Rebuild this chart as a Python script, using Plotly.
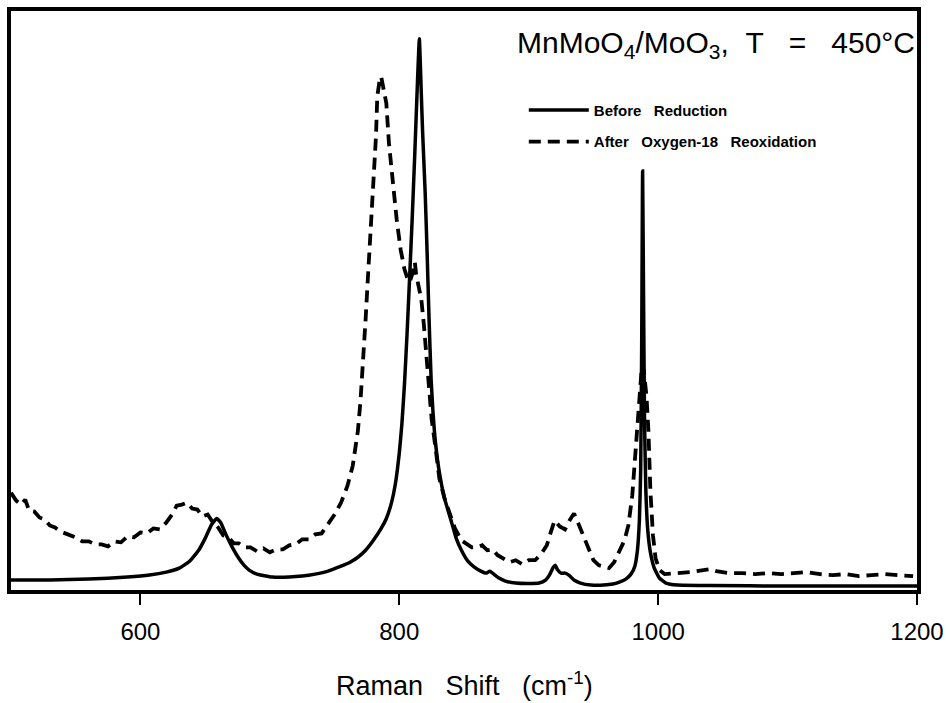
import plotly.graph_objects as go

# Raman shift (cm^-1) and intensity (arbitrary units)
before_x = [500, 530, 560, 590, 607, 620, 630, 638, 645, 650, 655, 659, 662, 666, 671, 676, 680, 684, 690,
            702, 715, 725, 735, 745, 755, 762, 768, 774, 780, 786, 790, 794, 797, 800, 802, 804, 806, 808,
            810, 812, 814, 815.5, 817, 818, 820, 821.5, 823, 824.6, 826, 828, 831, 835, 840, 844, 848, 853,
            858, 863, 867, 870, 873, 877, 882, 890, 900, 908, 913, 916, 919, 920.5, 922, 925, 928, 931, 935,
            940, 948, 958, 965, 970, 975, 979, 982, 984, 985.5, 986.5, 987.3, 988, 988.7, 989.5, 990.5, 992,
            994, 997, 1001, 1006, 1015, 1040, 1100, 1150, 1200]
before_y = [10, 10, 11, 13, 15, 18, 22, 29, 40, 52, 66, 72, 68, 56, 43, 32, 25, 20, 16,
            13, 13, 14, 16, 19, 24, 28, 33, 40, 50, 62, 72, 88, 107, 138, 167, 207, 258, 315,
            375, 440, 510, 555, 500, 462, 400, 340, 273, 212, 180, 148, 118, 92, 70, 52, 40, 29,
            23, 19, 17, 19, 16, 12, 9, 7, 6.5, 7, 10, 15, 23, 25, 21, 17, 17, 15, 10,
            7, 5, 5, 6, 8, 11, 16, 24, 40, 70, 120, 250, 422, 300, 170, 100, 60,
            38, 22, 12, 7, 5, 4.5, 4, 4, 4]

after_x = [500, 504, 508, 511, 514, 518, 522, 526, 530, 534, 538, 542, 546, 550, 555, 560, 565, 570, 575,
           580, 585, 590, 595, 600, 605, 610, 615, 620, 625, 628, 632, 636, 640, 644, 648, 652, 656, 660,
           664, 668, 672, 676, 680, 685, 690, 695, 700, 705, 710, 715, 720, 725, 730, 735, 740, 745, 750,
           755, 760, 764, 768, 770, 772, 774, 776, 778, 780, 782, 783, 785, 786, 788, 790, 792, 794, 796,
           798, 801, 804, 806, 808, 810, 812, 813, 815, 817, 819, 821, 823, 825, 828, 831, 835, 839, 843,
           848, 852, 856, 860, 864, 868, 872, 876, 880, 885, 890, 895, 900, 905, 910, 914, 917, 920, 924,
           928, 932, 935, 938, 941, 944, 947, 950, 954, 958, 962, 966, 970, 974, 977, 980, 982, 984, 986,
           987.5, 989, 991, 992.5, 994, 996, 998, 1001, 1005, 1015, 1025, 1035, 1040, 1045, 1055, 1065,
           1075, 1085, 1095, 1105, 1115, 1125, 1135, 1145, 1155, 1165, 1175, 1185, 1197]
after_y = [98, 90, 86, 91, 80, 79, 73, 71, 65, 63, 59, 57, 54, 53, 49, 49, 46, 46, 44,
           49, 48, 54, 53, 58, 57, 62, 61, 68, 77, 85, 86, 88, 82, 81, 74, 76, 68, 63,
           55, 53, 47, 47, 43, 43, 39, 42, 38, 41, 41, 45, 46, 51, 51, 56, 57, 66, 76,
           88, 105, 125, 160, 190, 227, 273, 320, 363, 407, 457, 497, 515, 517, 505, 490, 450, 423, 400,
           373, 343, 323, 315, 310, 318, 330, 318, 305, 293, 267, 232, 200, 172, 143, 112, 92, 77, 62,
           50, 47, 43, 43, 45, 40, 41, 35, 32, 28, 30, 26, 30, 30, 37, 45, 58, 70, 64,
           61, 71, 77, 68, 58, 50, 40, 30, 25, 23, 22, 28, 38, 50, 65, 95, 130, 170, 210,
           227, 220, 195, 160, 100, 55, 32, 20, 16, 17, 18, 20, 21, 19, 17, 17,
           16, 17, 16, 17, 18, 16, 15, 16, 14, 15, 16, 15, 14]

tick_vals = [600, 800, 1000, 1200]
tick_text = ["600", "800", "1000", "1200"]
series_names = ["Before&#160;&#160;&#160;Reduction",
                "After&#160;&#160;&#160;Oxygen-18&#160;&#160;&#160;Reoxidation"]

FONT = "Arial, Liberation Sans, Helvetica, sans-serif"

fig = go.Figure()
fig.add_trace(go.Scatter(x=before_x, y=before_y, mode="lines", name=series_names[0],
                         legendgroup="a",
                         line=dict(color="black", width=3.5, shape="spline", smoothing=0.4)))
fig.add_trace(go.Scatter(x=after_x, y=after_y, mode="lines", name=series_names[1],
                         legendgroup="b",
                         line=dict(color="black", width=3.8, dash="12px,7px")))

fig.update_layout(
    width=951, height=703,
    margin=dict(l=11, r=32, t=7, b=113),
    paper_bgcolor="white", plot_bgcolor="white",
    showlegend=True,
    legend=dict(x=0.566, y=0.857, xanchor="left", yanchor="top",
                font=dict(family=FONT, size=15, color="black", weight="bold"),
                bgcolor="rgba(0,0,0,0)", traceorder="grouped", tracegroupgap=9,
                itemwidth=60),
    xaxis=dict(range=[500, 1200], showgrid=False, zeroline=False,
               showline=True, linecolor="black", linewidth=3.5, mirror=True,
               ticks="outside", ticklen=11, tickwidth=1.5, tickcolor="black",
               tickvals=tick_vals, ticktext=tick_text, ticklabelstandoff=6,
               tickfont=dict(family=FONT, size=24, color="black")),
    yaxis=dict(range=[0, 583], showgrid=False, zeroline=False,
               showline=True, linecolor="black", linewidth=3.5, mirror=True,
               showticklabels=False, ticks=""),
    annotations=[
        dict(text="MnMoO<sub>4</sub>/MoO<sub>3</sub>,&#160;&#160;T&#160;&#160;&#160;=&#160;&#160;&#160;450°C",
             xref="paper", yref="paper", x=1.0, y=0.943, xanchor="right", yanchor="middle",
             showarrow=False, font=dict(family=FONT, size=30, color="black")),
        dict(text="Raman&#160;&#160;&#160;Shift&#160;&#160;&#160;(cm<sup>-1</sup>)",
             xref="paper", yref="paper", x=0.5, y=-0.162, xanchor="center", yanchor="middle",
             showarrow=False, font=dict(family=FONT, size=27, color="black")),
    ],
)

fig.write_html("out.html")
